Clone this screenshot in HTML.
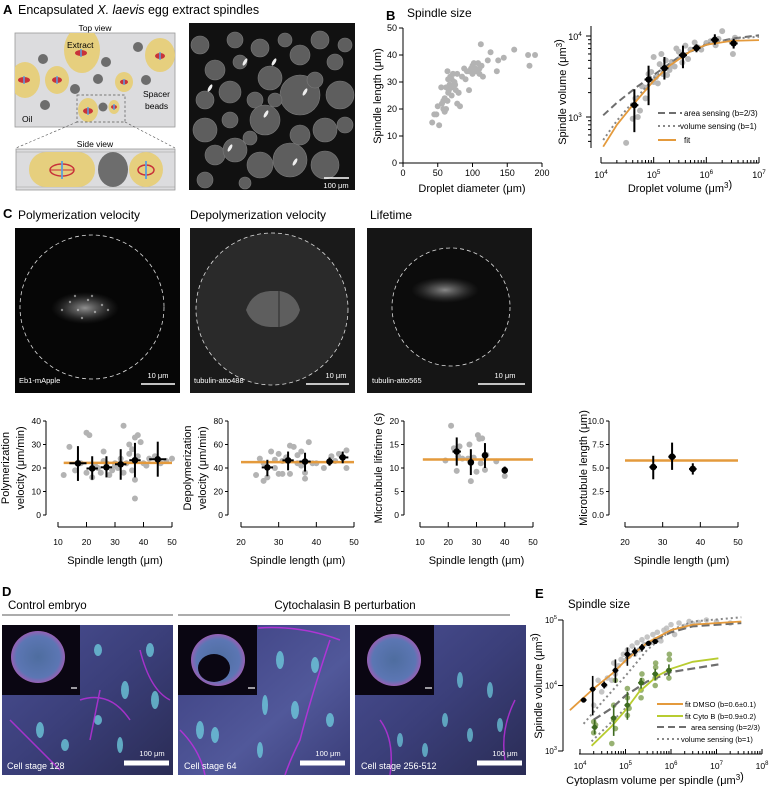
<!DOCTYPE html>
<html><head><meta charset="utf-8"><style>
html,body{margin:0;padding:0;background:#fff}
svg{display:block;font-family:"Liberation Sans",sans-serif}
</style></head><body>
<svg id="fig" width="771" height="786" viewBox="0 0 771 786" xmlns="http://www.w3.org/2000/svg">
<defs>
<radialGradient id="spgl" cx="50%" cy="50%" r="50%"><stop offset="0" stop-color="#eee"/><stop offset="0.45" stop-color="#999" stop-opacity="0.7"/><stop offset="1" stop-color="#555" stop-opacity="0"/></radialGradient>
<linearGradient id="emb1" x1="0" y1="0" x2="1" y2="1"><stop offset="0" stop-color="#4a4f93"/><stop offset="0.5" stop-color="#3b3f7a"/><stop offset="1" stop-color="#2a2c55"/></linearGradient>
<linearGradient id="emb2" x1="0" y1="0" x2="1" y2="1"><stop offset="0" stop-color="#3c3f80"/><stop offset="0.6" stop-color="#51589a"/><stop offset="1" stop-color="#3a3d78"/></linearGradient>
<radialGradient id="embryo" cx="50%" cy="50%" r="50%"><stop offset="0" stop-color="#5a7fb8"/><stop offset="0.8" stop-color="#6a8ad0"/><stop offset="1" stop-color="#b070d0"/></radialGradient>
</defs>

<!-- Panel A -->
<g>
<text x="3" y="14" font-size="13" font-weight="bold">A</text>
<text x="18" y="14" font-size="12.5">Encapsulated <tspan font-style="italic">X. laevis</tspan> egg extract spindles</text>
<text x="95" y="31" font-size="8.5" text-anchor="middle">Top view</text>
<g>
<rect x="15" y="33" width="160" height="94" fill="#dcdcde" stroke="#999" stroke-width="0.8"/>
<clipPath id="topclip"><rect x="15" y="33" width="160" height="94"/></clipPath>
<g clip-path="url(#topclip)">
<ellipse cx="82" cy="50" rx="18" ry="23" fill="#e6cf7e"/>
<ellipse cx="160" cy="55" rx="15" ry="17" fill="#e6cf7e"/>
<ellipse cx="25" cy="80" rx="15" ry="18" fill="#e6cf7e"/>
<ellipse cx="57" cy="80" rx="12" ry="14" fill="#e6cf7e"/>
<ellipse cx="124" cy="82" rx="9" ry="10" fill="#e6cf7e"/>
<ellipse cx="88" cy="110" rx="10" ry="12" fill="#e6cf7e"/>
<ellipse cx="114" cy="107" rx="5.5" ry="7" fill="#e6cf7e"/>
<g fill="#6d6d6d"><circle cx="43" cy="59" r="5"/><circle cx="106" cy="62" r="5"/><circle cx="138" cy="47" r="5"/><circle cx="98" cy="79" r="5"/><circle cx="146" cy="80" r="5"/><circle cx="75" cy="89" r="5"/><circle cx="45" cy="105" r="5"/><circle cx="103" cy="107" r="4.5"/></g>
<g fill="#c8323a"><ellipse cx="81" cy="53" rx="6" ry="3"/><ellipse cx="160" cy="56" rx="5" ry="3"/><ellipse cx="24" cy="80" rx="6" ry="3"/><ellipse cx="57" cy="80" rx="5" ry="3"/><ellipse cx="124" cy="82" rx="4" ry="2.4"/><ellipse cx="88" cy="111" rx="5" ry="3"/><ellipse cx="114" cy="107" rx="3" ry="2"/></g>
<g stroke="#5aa0e0" stroke-width="1.5"><line x1="81" y1="49" x2="81" y2="57"/><line x1="160" y1="52" x2="160" y2="60"/><line x1="24" y1="76" x2="24" y2="84"/><line x1="57" y1="76" x2="57" y2="84"/><line x1="124" y1="79" x2="124" y2="85"/><line x1="88" y1="107" x2="88" y2="115"/><line x1="114" y1="104" x2="114" y2="110"/></g>
</g>
<text x="67" y="48" font-size="8.5">Extract</text>
<text x="143" y="97" font-size="8.5">Spacer</text>
<text x="145" y="109" font-size="8.5">beads</text>
<text x="22" y="122" font-size="8.5">Oil</text>
<rect x="77" y="95" width="48" height="27" fill="none" stroke="#555" stroke-width="0.7" stroke-dasharray="2.5,2"/>
<line x1="77" y1="122" x2="16" y2="148" stroke="#555" stroke-width="0.6" stroke-dasharray="2.5,2"/>
<line x1="125" y1="122" x2="175" y2="148" stroke="#555" stroke-width="0.6" stroke-dasharray="2.5,2"/>
</g>
<text x="95" y="147" font-size="8.5" text-anchor="middle">Side view</text>
<g>
<rect x="16" y="149" width="159" height="41" fill="#dcdcde" stroke="#999" stroke-width="0.8"/>
<line x1="16" y1="152" x2="175" y2="152" stroke="#999" stroke-width="0.6"/>
<line x1="16" y1="187" x2="175" y2="187" stroke="#999" stroke-width="0.6"/>
<rect x="29" y="152" width="66" height="35" rx="17" fill="#e6cf7e"/>
<ellipse cx="113" cy="169.5" rx="15" ry="17.5" fill="#6d6d6d"/>
<ellipse cx="146" cy="169.5" rx="17" ry="17.5" fill="#e6cf7e"/>
<ellipse cx="62" cy="170" rx="12" ry="6" fill="none" stroke="#c8323a" stroke-width="1.5"/>
<line x1="50" y1="170" x2="74" y2="170" stroke="#c8323a" stroke-width="1"/>
<line x1="62" y1="161" x2="62" y2="179" stroke="#5aa0e0" stroke-width="1.8"/>
<ellipse cx="146" cy="170" rx="8" ry="5" fill="none" stroke="#c8323a" stroke-width="1.5"/>
<line x1="146" y1="161" x2="146" y2="179" stroke="#5aa0e0" stroke-width="1.8"/>
</g>
<g>
<rect x="189" y="23" width="166" height="167" fill="#111"/>
<clipPath id="mclip"><rect x="189" y="23" width="166" height="167"/></clipPath>
<g clip-path="url(#mclip)" id="microg"></g>
<line x1="324" y1="178" x2="349" y2="178" stroke="#fff" stroke-width="1.5"/>
<text x="336" y="188" font-size="7.5" fill="#fff" text-anchor="middle">100 μm</text>
</g>
</g>

<!-- Panel B -->
<g>
<text x="386" y="20" font-size="13" font-weight="bold">B</text>
<text x="407" y="17" font-size="12">Spindle size</text>
<g id="b1"></g>
<g id="b2"></g>
</g>

<!-- Panel C -->
<g>
<text x="3" y="218" font-size="13" font-weight="bold">C</text>
<text x="18" y="219" font-size="12">Polymerization velocity</text>
<text x="190" y="219" font-size="12">Depolymerization velocity</text>
<text x="370" y="219" font-size="12">Lifetime</text>
<g>
<rect x="15" y="228" width="165" height="165" fill="#060606"/>
<ellipse cx="85" cy="308" rx="34" ry="16" fill="url(#spgl)" opacity="0.6"/>
<g fill="#ddd" opacity="0.55" id="speck1"></g>
<circle cx="92" cy="307" r="72" fill="none" stroke="#ddd" stroke-width="0.8" stroke-dasharray="4,3"/>
<text x="19" y="383" font-size="7.5" fill="#fff">Eb1-mApple</text>
<line x1="141" y1="384" x2="175" y2="384" stroke="#fff" stroke-width="1.5"/>
<text x="158" y="378" font-size="7.5" fill="#fff" text-anchor="middle">10 μm</text>
</g>
<g>
<rect x="190" y="228" width="165" height="165" fill="#1a1a1a"/>
<circle cx="272" cy="309" r="76" fill="#2a2a2a"/>
<path d="M246 310 Q252 292 270 291 L280 291 Q296 294 300 310 Q296 324 280 327 L270 327 Q252 326 246 310Z" fill="#888" opacity="0.55"/>
<line x1="279" y1="291" x2="279" y2="327" stroke="#333" stroke-width="1.2"/>
<circle cx="272" cy="309" r="76" fill="none" stroke="#ddd" stroke-width="0.8" stroke-dasharray="4,3"/>
<text x="194" y="383" font-size="7.5" fill="#fff">tubulin-atto488</text>
<line x1="306" y1="384" x2="349" y2="384" stroke="#fff" stroke-width="1.5"/>
<text x="336" y="378" font-size="7.5" fill="#fff" text-anchor="middle">10 μm</text>
</g>
<g>
<rect x="367" y="228" width="165" height="165" fill="#151515"/>
<circle cx="451" cy="307" r="59" fill="#0c0c0c"/>
<ellipse cx="445" cy="290" rx="34" ry="13" fill="url(#spgl)" opacity="0.55"/>
<circle cx="451" cy="307" r="59" fill="none" stroke="#ddd" stroke-width="0.8" stroke-dasharray="4,3"/>
<text x="372" y="383" font-size="7.5" fill="#fff">tubulin-atto565</text>
<line x1="478" y1="384" x2="525" y2="384" stroke="#fff" stroke-width="1.5"/>
<text x="505" y="378" font-size="7.5" fill="#fff" text-anchor="middle">10 μm</text>
</g>
<g id="c1"></g>
<g id="c2"></g>
<g id="c3"></g>
<g id="c4"></g>
</g>

<!-- Panel D -->
<g>
<text x="2" y="596" font-size="13" font-weight="bold">D</text>
<text x="8" y="609" font-size="11.5">Control embryo</text>
<text x="345" y="609" font-size="11.5" text-anchor="middle">Cytochalasin B perturbation</text>
<line x1="2" y1="615" x2="173" y2="615" stroke="#222" stroke-width="0.8"/>
<line x1="178" y1="615" x2="510" y2="615" stroke="#222" stroke-width="0.8"/>
<g>
<rect x="2" y="625" width="171" height="150" fill="url(#emb1)"/>
<g fill="#6fd0e0" opacity="0.75"><ellipse cx="98" cy="650" rx="4" ry="6"/><ellipse cx="125" cy="690" rx="4" ry="9"/><ellipse cx="98" cy="720" rx="4" ry="5"/><ellipse cx="155" cy="700" rx="4" ry="9"/><ellipse cx="40" cy="730" rx="4" ry="8"/><ellipse cx="65" cy="745" rx="4" ry="6"/><ellipse cx="120" cy="745" rx="3" ry="8"/><ellipse cx="150" cy="650" rx="4" ry="7"/></g>
<path d="M80 700 Q110 690 130 720 M100 690 L90 740 M140 650 Q150 690 170 700 M10 720 Q40 750 60 770" stroke="#c030e0" stroke-width="1.5" fill="none" opacity="0.8"/>
<rect x="2" y="625" width="78" height="70" fill="#0a0612"/>
<ellipse cx="38" cy="657" rx="27" ry="26" fill="url(#embryo)" opacity="0.85"/>
<line x1="71" y1="688" x2="77" y2="688" stroke="#fff" stroke-width="1.2"/>
<text x="7" y="769" font-size="9" fill="#fff">Cell stage 128</text>
<line x1="124" y1="763" x2="169" y2="763" stroke="#fff" stroke-width="5"/>
<text x="152" y="756" font-size="7.5" fill="#fff" text-anchor="middle">100 μm</text>
</g>
<g>
<rect x="178" y="625" width="172" height="150" fill="url(#emb2)"/>
<g fill="#6fd0e0" opacity="0.75"><ellipse cx="280" cy="660" rx="4" ry="9"/><ellipse cx="315" cy="665" rx="4" ry="8"/><ellipse cx="265" cy="705" rx="3" ry="10"/><ellipse cx="295" cy="710" rx="4" ry="9"/><ellipse cx="200" cy="730" rx="4" ry="9"/><ellipse cx="215" cy="735" rx="4" ry="8"/><ellipse cx="260" cy="750" rx="3" ry="8"/><ellipse cx="330" cy="720" rx="4" ry="7"/></g>
<path d="M258 628 Q300 625 340 640 M330 640 Q310 700 300 740 Q290 760 285 775 M180 730 Q200 750 205 775" stroke="#c030e0" stroke-width="1.5" fill="none" opacity="0.85"/>
<rect x="178" y="625" width="79" height="70" fill="#0a0612"/>
<ellipse cx="218" cy="660" rx="27" ry="26" fill="url(#embryo)" opacity="0.85"/>
<ellipse cx="214" cy="668" rx="16" ry="14" fill="#0a0612"/>
<line x1="248" y1="688" x2="255" y2="688" stroke="#fff" stroke-width="1.2"/>
<text x="184" y="769" font-size="9" fill="#fff">Cell stage 64</text>
<line x1="300" y1="763" x2="345" y2="763" stroke="#fff" stroke-width="5"/>
<text x="328" y="756" font-size="7.5" fill="#fff" text-anchor="middle">100 μm</text>
</g>
<g>
<rect x="355" y="625" width="171" height="150" fill="url(#emb1)"/>
<g fill="#6fd0e0" opacity="0.7"><ellipse cx="460" cy="680" rx="3" ry="8"/><ellipse cx="490" cy="690" rx="3" ry="8"/><ellipse cx="445" cy="720" rx="3" ry="7"/><ellipse cx="470" cy="735" rx="3" ry="7"/><ellipse cx="500" cy="725" rx="3" ry="7"/><ellipse cx="400" cy="740" rx="3" ry="7"/><ellipse cx="425" cy="750" rx="3" ry="7"/></g>
<path d="M380 720 Q395 740 390 775 M515 700 Q500 730 505 760" stroke="#c030e0" stroke-width="1.5" fill="none" opacity="0.8"/>
<rect x="355" y="625" width="79" height="70" fill="#0a0612"/>
<ellipse cx="394" cy="660" rx="27" ry="26" fill="url(#embryo)" opacity="0.85"/>
<line x1="425" y1="688" x2="432" y2="688" stroke="#fff" stroke-width="1.2"/>
<text x="361" y="769" font-size="9" fill="#fff">Cell stage 256-512</text>
<line x1="477" y1="763" x2="522" y2="763" stroke="#fff" stroke-width="5"/>
<text x="505" y="756" font-size="7.5" fill="#fff" text-anchor="middle">100 μm</text>
</g>
</g>

<!-- Panel E -->
<g>
<text x="535" y="598" font-size="13" font-weight="bold">E</text>
<text x="568" y="608" font-size="11.5">Spindle size</text>
<g id="e1"></g>
</g>
</svg>
<script>
// ---------- data ----------
const bDiam = [42,45,48,50,52,55,56,58,60,60,62,62,64,65,65,67,68,70,70,72,72,74,75,76,78,78,80,82,85,88,90,92,95,95,98,100,100,102,104,105,108,110,110,112,113,115,122,126,135,137,145,160,180,182,190,58,66,72,64,80];
const bLen  = [15,18,18,21,14,28,22,23,19,24,28,20,34,26,31,29,32,25,31,28,33,30,29,27,22,33,26,21,32,35,31,34,27,34,35,36,33,37,35,34,37,33,35,44,36,32,38,41,34,38,39,42,40,36,40,20,27,33,23,26];
const bVol   = [3e4,4e4,4.5e4,5e4,5.5e4,6e4,7e4,7e4,8e4,9e4,1e5,1e5,1.1e5,1.2e5,1.3e5,1.4e5,1.5e5,1.7e5,1.8e5,2e5,2e5,2.2e5,2.5e5,2.7e5,3e5,3.3e5,3.5e5,4e5,4.5e5,5e5,6e5,7e5,8e5,1e6,1.2e6,1.5e6,1.7e6,2e6,3e6,3.2e6,3.5e6];
const bSpV   = [480,950,1700,1000,1200,2400,2300,1700,3400,3600,2700,5500,3100,2600,4500,6000,3400,5000,3300,4100,3800,4800,4200,7000,6400,5600,4700,7600,5200,6800,8300,7200,6800,8200,8600,7700,9200,11500,8600,6000,9500];
const bMeanX = [4.3e4,8e4,1.6e5,3.6e5,6.5e5,1.45e6,3.3e6];
const bMeanY = [1400,2900,4000,5800,7100,9000,8100];
const bMeanLo= [650,1400,2900,4000,6300,7800,7000];
const bMeanHi= [2200,4300,5500,7600,7900,10500,9200];
const bFitX  = [1.1e4,2e4,4e4,1e5,2e5,5e5,1e6,3e6,1e7];
const bFitY  = [430,800,1400,2800,4300,6500,7800,8700,8900];
const bAreaX = [1.1e4,2e4,5e4,1e5,3e5,1e6,3e6,1e7];
const bAreaY = [1050,1500,2400,3300,5500,7800,9300,10200];
const bVolX  = [1.1e4,2e4,5e4,1e5,3e5,1e6,3e6,1e7];
const bVolY  = [520,900,1800,3000,5500,8000,9200,9800];
const c1X=[12,14,16,18,20,20,21,22,23,24,25,26,27,28,29,30,31,32,33,34,35,35,36,36,37,37,38,38,39,40,41,42,44,46,48,50,37,33,30,26];
const c1Y=[17,29,19,22,35,18,34,16,21,20,18,27,22,17,19,21,20,24,18,22,26,30,19,28,7,33,34,25,31,22,21,24,25,22,23,24,15,38,22,23];
const c1MX=[17,22,27,32,37,45], c1MY=[22,19.8,20.3,21.6,23.3,23.7], c1Lo=[14.5,15,16,15,16,16.3], c1Hi=[29.3,25,25,28,30.7,31.2], c1XL=[14,20,25,30,35,42], c1XH=[20,24,29,34,39,48];
const c2X=[24,25,26,26,27,28,29,30,30,31,32,33,33,34,35,35,36,36,37,37,38,39,40,42,44,45,46,48,48,29,31];
const c2Y=[34,48,29,44,32,54,47,35,52,35,49,59,35,58,51,44,42,54,31,36,62,44,44,40,50,46,52,40,55,40,46];
const c2MX=[27,32.5,37,43.5,47], c2MY=[40.5,46.5,45.5,45.5,49], c2Lo=[33,38,37,42,44], c2Hi=[47,54,53,49,54], c2XL=[25.5,31,35.5,43,46], c2XH=[28.5,34,38.5,44.5,48.5];
const c3X=[19,21,22,23,23.5,24,25,27,27.5,28,29,30,30.5,31,31.5,32,33,33.5,37,40];
const c3Y=[11.6,19,14.2,9.4,12.5,14.6,12,12,15,7.2,12.2,9.2,17,16.2,11,16.3,9.6,12.8,11.4,8.3];
const c3MX=[23,28,33,40], c3MY=[13.5,11.2,12.7,9.5], c3Lo=[10.5,8.5,10,8.8], c3Hi=[16.5,14,15.3,10.3], c3XL=[21.5,27,32,39], c3XH=[24.5,29,34,41];
const c4MX=[27.5,32.5,38], c4MY=[5.1,6.2,4.9], c4Lo=[3.8,4.8,4.3], c4Hi=[6.3,7.7,5.5], c4XL=[26.5,31.5,37], c4XH=[28.5,33.5,39];
const cHline=[22.2,45,11.8,5.8];
const eGX=[1.2e4,2e4,2.5e4,3e4,3.5e4,4e4,5e4,5.5e4,6e4,7e4,8e4,9e4,1e5,1.1e5,1.2e5,1.4e5,1.6e5,1.8e5,2e5,2.3e5,2.6e5,3e5,3.5e5,4e5,4.5e5,5e5,6e5,7e5,8e5,1e6,1.2e6,1.5e6,2e6,2.5e6,3e6,4e6,6e6,1e7,2e7];
const eGY=[6e3,5e3,12e3,8e3,10e3,13e3,12e3,22e3,15e3,20e3,25e3,30e3,24e3,35e3,28e3,40e3,30e3,45e3,35e3,50e3,42e3,55e3,45e3,60e3,50e3,65e3,48e3,70e3,75e3,85e3,60e3,90e3,80e3,95e3,88e3,92e3,100e3,95e3,90e3];
const eCX=[2e4,2e4,2.2e4,5e4,5.5e4,5.5e4,6e4,6e4,1.1e5,1.1e5,1.1e5,1.2e5,2.2e5,2.2e5,2.3e5,2.3e5,4.5e5,4.5e5,4.6e5,4.6e5,9e5,9e5,9.2e5,9.2e5];
const eCY=[1900,2800,2500,1300,3000,5000,2200,12000,3500,6500,9000,4500,6500,8500,12000,15000,10000,13000,19000,22000,13000,17000,25000,30000];
const eDMX=[1.2e4,1.9e4,3.4e4,6e4,1.1e5,1.6e5,2.3e5,3.2e5,4.5e5], eDMY=[6000,8800,10200,17000,30000,33000,38000,44000,47000], eDLo=[5600,3500,9000,11000,20000,28000,33000,40000,43000], eDHi=[6500,14000,11500,25000,38000,38000,43000,48000,51000];
const eCMX=[2.1e4,5.5e4,1.1e5,2.2e5,4.5e5,9e5], eCMY=[2300,3200,5000,11000,15000,17000], eCLo=[1800,1700,3000,9000,12000,14000], eCHi=[3000,5000,8000,13000,18000,21000];
const eFitDX=[6e3,2e4,5e4,1e5,3e5,1e6,3e6,3.5e7], eFitDY=[4200,9000,15000,24000,45000,70000,85000,95000];
const eFitCX=[1.8e4,5e4,1e5,2e5,5e5,1e6,3e6,1.1e7], eFitCY=[1200,2400,4200,8000,14000,18000,23000,26000];
const eAreaDX=[1e5,3e5,1e6,3e6,3.5e7], eAreaDY=[26000,44000,65000,80000,90000];
const eAreaCX=[2e4,5e4,1e5,3e5,1e6,1.1e7], eAreaCY=[3000,4500,7000,11500,16000,21000];
const eVolDX=[1.2e4,3e4,1e5,3e5,1e6,3e6,3.5e7], eVolDY=[2600,5500,14000,35000,70000,95000,110000];
const eVolCX=[1.8e4,5e4,1e5], eVolCY=[1400,2800,4500];

// ---------- helpers ----------
const NS='http://www.w3.org/2000/svg';
function mk(tag,attrs,parent){const e=document.createElementNS(NS,tag);for(const k in attrs)e.setAttribute(k,attrs[k]);parent.appendChild(e);return e;}
const lin=(d0,d1,r0,r1)=>v=>r0+(v-d0)/(d1-d0)*(r1-r0);
const lg=(d0,d1,r0,r1)=>v=>r0+(Math.log10(v)-Math.log10(d0))/(Math.log10(d1)-Math.log10(d0))*(r1-r0);
function txt(p,x,y,s,size,anchor,extra){const t=mk('text',Object.assign({x:x,y:y,'font-size':size,'text-anchor':anchor||'middle'},extra||{}),p);t.textContent=s;return t;}
function supTxt(p,x,y,base,exp,size){const t=mk('text',{x:x,y:y,'font-size':size,'text-anchor':'middle'},p);const a=mk('tspan',{},t);a.textContent=base;const b=mk('tspan',{dy:-4,'font-size':size*0.7},t);b.textContent=exp;return t;}
function line(p,pts,style){const d=pts.map((q,i)=>(i?'L':'M')+q[0].toFixed(1)+' '+q[1].toFixed(1)).join(' ');return mk('path',Object.assign({d:d,fill:'none'},style),p);}

(function(){const g=document.getElementById('microg');
const drops=[[200,45,9],[215,70,10],[235,40,8],[240,62,7],[260,48,9],[270,78,12],[255,100,8],[230,92,11],[205,100,9],[285,40,7],[300,55,10],[320,40,9],[335,62,8],[345,45,7],[300,95,20],[340,95,14],[265,120,15],[230,120,8],[205,130,12],[300,135,10],[325,130,12],[345,125,8],[215,155,10],[235,150,12],[260,165,13],[290,160,17],[325,165,14],[205,180,8],[245,183,6],[275,100,7],[315,80,8],[250,138,7]];
drops.forEach(d=>{const c=mk('circle',{cx:d[0],cy:d[1],r:d[2],fill:'#5e5e5e',stroke:'#7a7a7a','stroke-width':0.6},g);

});
[[245,62],[210,88],[266,114],[305,92],[295,162],[230,148],[274,62]].forEach(s=>{const e=mk('ellipse',{cx:s[0],cy:s[1],rx:1.6,ry:4,fill:'#eee',transform:'rotate(30 '+s[0]+' '+s[1]+')'},g);

});
const sp=document.getElementById('speck1');
[[70,302],[78,310],[88,300],[95,312],[102,305],[62,310],[82,318],[92,296],[108,310],[75,296]].forEach(s=>{mk('circle',{cx:s[0],cy:s[1],r:1.2},sp);});})();

const ORANGE='#e49a3c';

// ---------- Panel B left ----------
(function(){const g=document.getElementById('b1');
const x=lin(0,200,403,542), y=lin(0,50,163,28);
bDiam.forEach((d,i)=>{const c=mk('circle',{cx:x(d),cy:y(bLen[i]),r:3,fill:'#b3b3b3'},g);

});
const ax=mk('path',{d:`M403 28 L403 163 L542 163`,stroke:'#000','stroke-width':1,fill:'none'},g);


[0,10,20,30,40,50].forEach(v=>{mk('line',{x1:399,x2:403,y1:y(v),y2:y(v),stroke:'#000'},g);const t=txt(g,397,y(v)+3,String(v),9,'end');

});
[0,50,100,150,200].forEach(v=>{mk('line',{x1:x(v),x2:x(v),y1:163,y2:167,stroke:'#000'},g);const t=txt(g,x(v),176,String(v),9);

});
const xt=txt(g,472,192,'Droplet diameter (μm)',11);


const yt=txt(g,0,0,'Spindle length (μm)',11,'middle',{transform:'translate(381 96) rotate(-90)'});

})();

// ---------- Panel B right ----------
(function(){const g=document.getElementById('b2');
const x=lg(1e4,1e7,601,759), y=lg(1e3,1e4,117,36);
bVol.forEach((v,i)=>{const c=mk('circle',{cx:x(v),cy:y(bSpV[i]),r:3,fill:'#b8b8b8'},g);

});
const a=line(g,bAreaX.map((v,i)=>[x(v),y(bAreaY[i])]),{stroke:'#6e6e6e','stroke-width':2,'stroke-dasharray':'7,4'});


const vl=line(g,bVolX.map((v,i)=>[x(v),y(bVolY[i])]),{stroke:'#888','stroke-width':2,'stroke-dasharray':'2,3'});


const f=line(g,bFitX.map((v,i)=>[x(v),y(bFitY[i])]),{stroke:ORANGE,'stroke-width':1.8});


bMeanX.forEach((v,i)=>{const e=mk('line',{x1:x(v),x2:x(v),y1:y(bMeanLo[i]),y2:y(bMeanHi[i]),stroke:'#000','stroke-width':2},g);


mk('line',{x1:x(v)-4,x2:x(v)+4,y1:y(bMeanY[i]),y2:y(bMeanY[i]),stroke:'#000','stroke-width':2},g);
const c=mk('circle',{cx:x(v),cy:y(bMeanY[i]),r:3.2,fill:'#000'},g);

});
mk('line',{x1:591,x2:591,y1:26,y2:148,stroke:'#000'},g);
[500,600,700,800,900,1000,2000,3000,4000,5000,6000,7000,8000,9000,10000].forEach(v=>{const yy=y(v);if(yy<26||yy>148)return;const major=(v===1000||v===10000);mk('line',{x1:major?586:588,x2:591,y1:yy,y2:yy,stroke:'#000'},g);});
supTxt(g,575,121,'10','3',9);supTxt(g,575,40,'10','4',9);
mk('line',{x1:601,x2:759,y1:163,y2:163,stroke:'#000'},g);
[1e4,1e5,1e6,1e7].forEach(v=>{mk('line',{x1:x(v),x2:x(v),y1:157,y2:163,stroke:'#000'},g);const t=supTxt(g,x(v),178,'10',String(Math.log10(v)),9);

});
[1e4,1e5,1e6].forEach(b=>{for(let k=2;k<10;k++)mk('line',{x1:x(b*k),x2:x(b*k),y1:160,y2:163,stroke:'#000'},g);});
const xt=txt(g,680,192,'',11);xt.innerHTML='Droplet volume (μm<tspan dy="-4" font-size="8">3</tspan>)';


const yt=txt(g,0,0,'',11,'middle',{transform:'translate(566 92) rotate(-90)'});yt.innerHTML='Spindle volume (μm<tspan dy="-4" font-size="8">3</tspan>)';


const lg1=mk('g',{},g);


mk('line',{x1:658,x2:682,y1:113,y2:113,stroke:'#6e6e6e','stroke-width':2,'stroke-dasharray':'7,4'},lg1);
txt(lg1,684,116,'area sensing (b=2/3)',8,'start');
mk('line',{x1:658,x2:680,y1:126,y2:126,stroke:'#888','stroke-width':2,'stroke-dasharray':'2,3'},lg1);
txt(lg1,680,129,'volume sensing (b=1)',8,'start');
mk('line',{x1:658,x2:676,y1:140,y2:140,stroke:ORANGE,'stroke-width':2},lg1);
txt(lg1,684,143,'fit',8,'start');})();

// ---------- Panel C plots ----------
function cPlot(id,xs,ys,mx,my,lo,hi,xl,xh,hline,xd,xr,ymax,yticks,yfmt,xticks,yax,hx0,hx1,ytitle){
const g=document.getElementById(id);
const x=lin(xd[0],xd[1],xr[0],xr[1]), y=lin(0,ymax,515,421);
xs.forEach((v,i)=>{const c=mk('circle',{cx:x(v),cy:y(ys[i]),r:3,fill:'#b3b3b3'},g);

});
const h=mk('line',{x1:x(hx0),x2:x(hx1),y1:y(hline),y2:y(hline),stroke:ORANGE,'stroke-width':2.5},g);


mx.forEach((v,i)=>{const e=mk('line',{x1:x(v),x2:x(v),y1:y(lo[i]),y2:y(hi[i]),stroke:'#000','stroke-width':2},g);


mk('line',{x1:x(xl[i]),x2:x(xh[i]),y1:y(my[i]),y2:y(my[i]),stroke:'#000','stroke-width':2},g);
const c=mk('circle',{cx:x(v),cy:y(my[i]),r:3.3,fill:'#000'},g);

});
mk('line',{x1:yax,x2:yax,y1:421,y2:515,stroke:'#000'},g);
yticks.forEach(v=>{mk('line',{x1:yax-3,x2:yax,y1:y(v),y2:y(v),stroke:'#000'},g);const t=txt(g,yax-5,y(v)+3,yfmt(v),8.5,'end');

});
mk('line',{x1:xr[0],x2:xr[1],y1:527,y2:527,stroke:'#000'},g);
xticks.forEach(v=>{mk('line',{x1:x(v),x2:x(v),y1:522,y2:527,stroke:'#000'},g);const t=txt(g,x(v),545,String(v),8.5);

});
const xt=txt(g,(xr[0]+xr[1])/2,564,'Spindle length (μm)',11);


ytitle.forEach((s,k)=>{const t=txt(g,0,0,s,11,'middle',{transform:`translate(${yax-(ytitle.length===2?(k===0?37:22):22)} 468) rotate(-90)`});

});}
cPlot('c1',c1X,c1Y,c1MX,c1MY,c1Lo,c1Hi,c1XL,c1XH,cHline[0],[10,50],[58,172],40,[0,10,20,30,40],v=>String(v),[10,20,30,40,50],46,12,50,['Polymerization','velocity (μm/min)']);
cPlot('c2',c2X,c2Y,c2MX,c2MY,c2Lo,c2Hi,c2XL,c2XH,cHline[1],[20,50],[241,354],80,[0,20,40,60,80],v=>String(v),[20,30,40,50],228,20,50,['Depolymerization','velocity (μm/min)']);
cPlot('c3',c3X,c3Y,c3MX,c3MY,c3Lo,c3Hi,c3XL,c3XH,cHline[2],[10,50],[420,533],20,[0,5,10,15,20],v=>String(v),[10,20,30,40,50],404,11,50,['Microtubule lifetime (s)']);
cPlot('c4',[],[],c4MX,c4MY,c4Lo,c4Hi,c4XL,c4XH,cHline[3],[20,50],[625,738],10,[0,2.5,5,7.5,10],v=>v.toFixed(1),[20,30,40,50],609,20,50,['Microtubule length (μm)']);

// ---------- Panel E ----------
(function(){const g=document.getElementById('e1');
const x=lg(1e4,1e8,580,762), y=lg(1e3,1e5,751,620);
eGX.forEach((v,i)=>{const c=mk('circle',{cx:x(v),cy:y(eGY[i]),r:2.8,fill:'#bbb',opacity:0.85},g);

});
eCX.forEach((v,i)=>{const c=mk('circle',{cx:x(v),cy:y(eCY[i]),r:2.8,fill:'#86a45a',opacity:0.85},g);

});
const sets=[[eVolDX,eVolDY,{stroke:'#888','stroke-width':2,'stroke-dasharray':'2,3'},'volume-sensing-dmso'],[eVolCX,eVolCY,{stroke:'#888','stroke-width':2,'stroke-dasharray':'2,3'},'volume-sensing-cytob'],[eAreaDX,eAreaDY,{stroke:'#6e6e6e','stroke-width':2.2,'stroke-dasharray':'8,4'},'area-sensing-dmso'],[eAreaCX,eAreaCY,{stroke:'#6e6e6e','stroke-width':2.2,'stroke-dasharray':'8,4'},'area-sensing-cytob'],[eFitDX,eFitDY,{stroke:ORANGE,'stroke-width':1.8},'fit-dmso'],[eFitCX,eFitCY,{stroke:'#b8cc30','stroke-width':1.8},'fit-cytob']];
sets.forEach(s=>{const l=line(g,s[0].map((v,i)=>[x(v),y(s[1][i])]),s[2]);

});
[[eDMX,eDMY,eDLo,eDHi,'#000'],[eCMX,eCMY,eCLo,eCHi,'#3d6a20']].forEach(m=>{m[0].forEach((v,i)=>{const e=mk('line',{x1:x(v),x2:x(v),y1:y(m[2][i]),y2:y(m[3][i]),stroke:m[4],'stroke-width':1.6},g);


mk('line',{x1:x(v)-3,x2:x(v)+3,y1:y(m[1][i]),y2:y(m[1][i]),stroke:m[4],'stroke-width':1.6},g);
const c=mk('circle',{cx:x(v),cy:y(m[1][i]),r:2.6,fill:m[4]},g);

});});
mk('line',{x1:563,x2:563,y1:620,y2:751,stroke:'#000'},g);
[1e3,1e4,1e5].forEach(v=>{mk('line',{x1:558,x2:563,y1:y(v),y2:y(v),stroke:'#000'},g);supTxt(g,551,y(v)+3,'10',String(Math.log10(v)),8);});
mk('line',{x1:579,x2:762,y1:754,y2:754,stroke:'#000'},g);
[1e4,1e5,1e6,1e7,1e8].forEach(v=>{mk('line',{x1:x(v),x2:x(v),y1:749,y2:754,stroke:'#000'},g);const t=supTxt(g,x(v),769,'10',String(Math.log10(v)),8.5);

});
[1e4,1e5,1e6,1e7].forEach(b=>{for(let k=2;k<10;k++)mk('line',{x1:x(b*k),x2:x(b*k),y1:751,y2:754,stroke:'#000'},g);});
const xt=txt(g,655,784,'',11);xt.innerHTML='Cytoplasm volume per spindle (μm<tspan dy="-4" font-size="8">3</tspan>)';


const yt=txt(g,0,0,'',11,'middle',{transform:'translate(542 686) rotate(-90)'});yt.innerHTML='Spindle volume (μm<tspan dy="-4" font-size="8">3</tspan>)';


const L=mk('g',{},g);


mk('line',{x1:657,x2:683,y1:704,y2:704,stroke:ORANGE,'stroke-width':2},L);txt(L,685,707,'fit DMSO (b=0.6±0.1)',7.5,'start');
mk('line',{x1:657,x2:683,y1:716,y2:716,stroke:'#b8cc30','stroke-width':2},L);txt(L,685,719,'fit Cyto B (b=0.9±0.2)',7.5,'start');
mk('line',{x1:657,x2:688,y1:727,y2:727,stroke:'#6e6e6e','stroke-width':2,'stroke-dasharray':'7,4'},L);txt(L,691,730,'area sensing (b=2/3)',7.5,'start');
mk('line',{x1:657,x2:680,y1:739,y2:739,stroke:'#888','stroke-width':2,'stroke-dasharray':'2,3'},L);txt(L,681,742,'volume sensing (b=1)',7.5,'start');})();
</script>
</body></html>
